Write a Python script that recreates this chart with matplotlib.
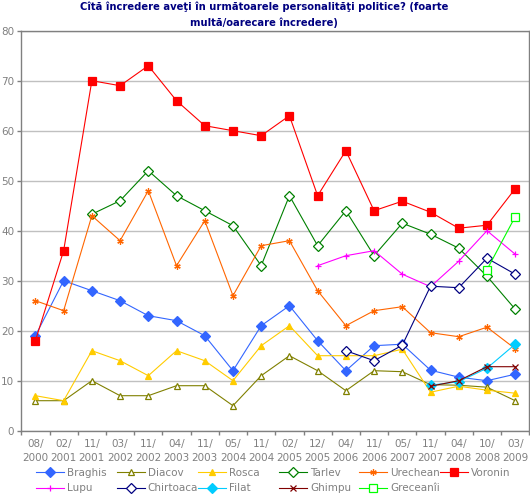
import matplotlib
matplotlib.use("Agg")
import matplotlib.pyplot as plt
import matplotlib.ticker as ticker
import numpy as np
from matplotlib import rcParams

rcParams["font.family"] = ["DejaVu Sans"]

nan = np.nan

dates = [
    "08/\n2000", "02/\n2001", "11/\n2001", "03/\n2002", "11/\n2002", "04/\n2003",
    "11/\n2003", "05/\n2004", "11/\n2004", "02/\n2005", "12/\n2005", "04/\n2006",
    "11/\n2006", "05/\n2007", "11/\n2007", "04/\n2008", "10/\n2008", "03/\n2009",
]

braghis = [19, 30, 28, 26, 23, 22, 19, 12, 21, 25, 18, 12, 17, 17.3, 12.1, 10.7, 10, 11.3]
diacov = [6, 6, 10, 7, 7, 9, 9, 5, 11, 15, 12, 8, 12, 11.8, 9.2, 9.1, 8.7, 6]
rosca = [7, 6, 16, 14, 11, 16, 14, 10, 17, 21, 15, 15, 15, 16.3, 7.7, 8.9, 8.1, 7.5]
tarlev = [nan, nan, 43.3, 46, 52, 47, 44, 41, 33, 47, 37, 44, 35, 41.5, 39.3, 36.5, 30.9, 24.3]
urechean = [26, 24, 43, 38, 48, 33, 42, 27, 37, 38, 28, 21, 24, 24.8, 19.6, 18.8, 20.7, 16.4]
voronin = [18, 36, 70, 69, 73, 66, 61, 60, 59, 63, 47, 56, 44, 45.9, 43.7, 40.5, 41.1, 48.4]
lupu = [nan] * 10 + [33, 35, 36, 31.3, 28.8, 33.9, 40, 35.3]
chirtoaca = [nan] * 11 + [16, 14, 17.1, 28.9, 28.6, 34.5, 31.3]
filat = [nan] * 14 + [9.1, 9.8, 12.5, 17.3]
ghimpu = [nan] * 14 + [8.9, 10, 12.8, 12.8]
greceanii = [nan] * 16 + [32.2, 42.8]

# name, values, colour, marker, filled
series = [
    ("Braghis", braghis, "#3366FF", "D", True),
    ("Diacov", diacov, "#808000", "^", False),
    ("Rosca", rosca, "#FFCC00", "^", True),
    ("Tarlev", tarlev, "#008000", "D", False),
    ("Urechean", urechean, "#FF6600", (6, 2, 0), True),
    ("Voronin", voronin, "#FF0000", "s", True),
    ("Lupu", lupu, "#FF00FF", "+", True),
    ("Chirtoaca", chirtoaca, "#000080", "D", False),
    ("Filat", filat, "#00CCFF", "D", True),
    ("Ghimpu", ghimpu, "#800000", "x", True),
    ("Greceanîi", greceanii, "#00FF00", "s", False),
]

fig = plt.figure(figsize=(5.3, 5.0), dpi=100)
ax = fig.add_axes([21.3 / 530, 69.3 / 500, 508 / 530, 400 / 500])

x = np.arange(len(dates))
handles = {}
for name, vals, col, mk, filled in series:
    ms = 4.6
    if mk == "s":
        ms = 5.3
    if mk in ("+", "x", (6, 2, 0)):
        ms = 4.6
    (h,) = ax.plot(
        x,
        np.array(vals, dtype=float),
        color=col,
        linewidth=0.8,
        marker=mk,
        markersize=ms,
        markerfacecolor=col if filled else "white",
        markeredgecolor=col,
        markeredgewidth=0.9,
        label=name,
    )
    handles[name] = h

ax.set_xlim(-0.5, len(dates) - 0.5)
ax.set_ylim(0, 80)

grey = "#808080"
for s in ax.spines.values():
    s.set_color(grey)
    s.set_linewidth(1.0)

ax.yaxis.set_major_locator(ticker.MultipleLocator(10))
ax.yaxis.grid(True, color="#C0C0C0", linewidth=1.0)
ax.set_axisbelow(True)
ax.tick_params(axis="y", direction="out", length=3, width=1, color=grey,
               labelcolor=grey, labelsize=7.5, pad=2)

ax.xaxis.set_major_locator(ticker.FixedLocator(np.arange(len(dates) + 1) - 0.5))
ax.xaxis.set_major_formatter(ticker.NullFormatter())
ax.xaxis.set_minor_locator(ticker.FixedLocator(x))
ax.xaxis.set_minor_formatter(ticker.FixedFormatter(dates))
ax.tick_params(axis="x", which="major", direction="out", length=3, width=1, color=grey)
ax.tick_params(axis="x", which="minor", length=0, labelcolor=grey, labelsize=7.5, pad=6)
for lab in ax.xaxis.get_minorticklabels():
    lab.set_linespacing(1.45)

fig.text(0.498, 1 - 6.8 / 500,
         "Cîtă încredere aveţi în următoarele personalităţi politice? (foarte",
         ha="center", va="center", fontsize=7.2, fontweight="bold", color="#000080")
fig.text(0.498, 1 - 23 / 500, "multă/oarecare încredere)",
         ha="center", va="center", fontsize=7.2, fontweight="bold", color="#000080")

# legend laid out row by row in fixed-width columns
row1 = ["Braghis", "Diacov", "Rosca", "Tarlev", "Urechean", "Voronin"]
row2 = ["Lupu", "Chirtoaca", "Filat", "Ghimpu", "Greceanîi"]
col_x = [35.5, 116.6, 197.8, 279, 359, 440]
for j, cx in enumerate(col_x):
    names = [row1[j]] + ([row2[j]] if j < len(row2) else [])
    fig.legend(
        [handles[n] for n in names],
        names,
        loc="upper left",
        bbox_to_anchor=(cx / 530, 1 - 467.5 / 500),
        bbox_transform=fig.transFigure,
        frameon=False,
        fontsize=7.5,
        handlelength=2.7,
        handletextpad=0.3,
        borderpad=0,
        borderaxespad=0,
        labelspacing=0.55,
        labelcolor=grey,
    )

fig.savefig("out.png", dpi=100)
